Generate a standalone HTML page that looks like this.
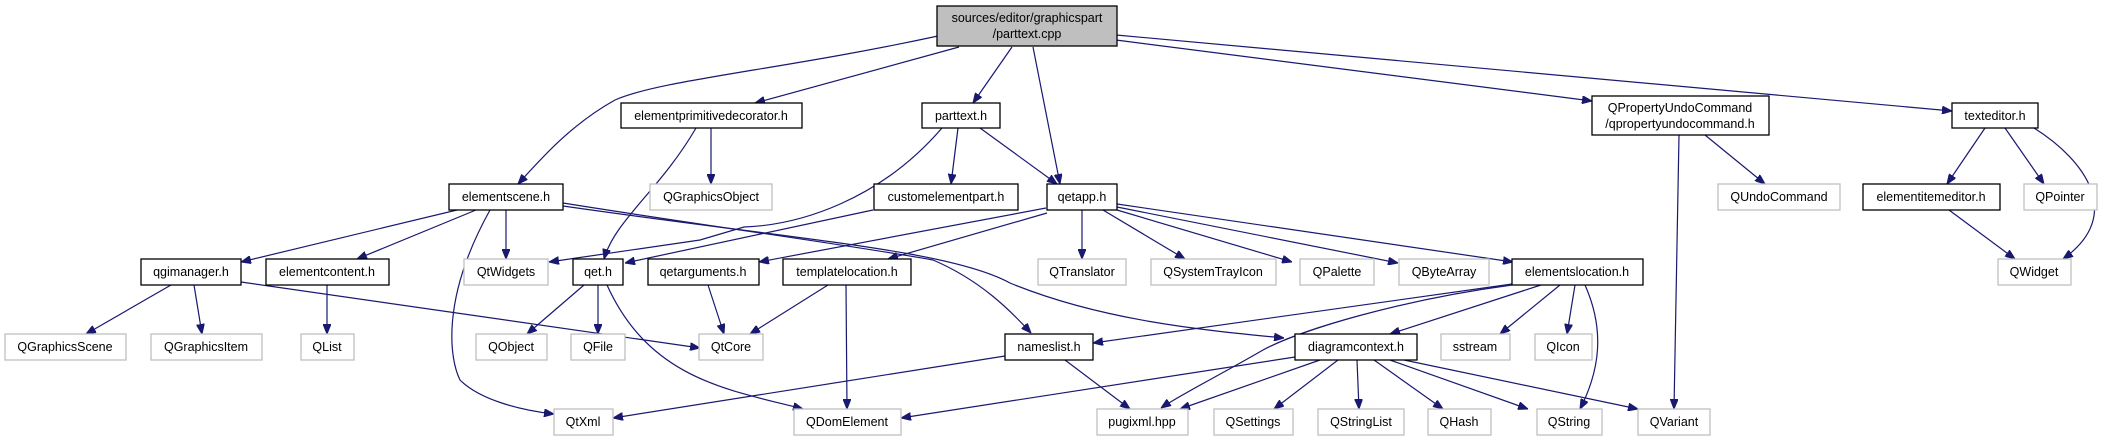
<!DOCTYPE html>
<html><head><meta charset="utf-8"><style>
html,body{margin:0;padding:0;background:#fff;}
svg{display:block;}
text{font-family:"Liberation Sans",Arial,sans-serif;font-size:12.5px;fill:#000;text-anchor:middle;}
.b{fill:#fff;stroke:#000;stroke-width:1.3;}
.g{fill:#fff;stroke:#bfbfbf;stroke-width:1.3;}
.e{fill:none;stroke:#191970;stroke-width:1.2;marker-end:url(#a);}
</style></head><body>
<svg width="2123" height="440" viewBox="0 0 2123 440" xmlns="http://www.w3.org/2000/svg">
<defs><marker id="a" markerWidth="10" markerHeight="8" refX="10" refY="4" orient="auto" markerUnits="userSpaceOnUse"><path d="M0,0 L10,4 L0,8 z" fill="#191970" stroke="#191970"/></marker></defs>
<g>
<path class="e" d="M938,36 C780,70 660,80 615,100 C570,125 540,160 518,184"/>
<path class="e" d="M959,47 L755,103"/>
<path class="e" d="M1012,47 L973,103"/>
<path class="e" d="M1033,47 L1060,184"/>
<path class="e" d="M1116,40 L1592,101"/>
<path class="e" d="M1116,35 L1952,111"/>
<path class="e" d="M696,128 C660,190 615,220 604,259"/>
<path class="e" d="M711,128 L711,184"/>
<path class="e" d="M942,128 C880,200 800,225 744,227 L700,240 L549,262"/>
<path class="e" d="M958,128 L951,184"/>
<path class="e" d="M980,128 L1057,184"/>
<path class="e" d="M873,210 L625,263"/>
<path class="e" d="M1046,208 L759,262"/>
<path class="e" d="M1047,213 L888,259"/>
<path class="e" d="M1082,210 L1082,259"/>
<path class="e" d="M1103,210 L1185,259"/>
<path class="e" d="M1117,210 L1292,262"/>
<path class="e" d="M1117,207 L1398,263"/>
<path class="e" d="M1117,204 L1513,262"/>
<path class="e" d="M457,210 L241,262"/>
<path class="e" d="M476,210 L357,259"/>
<path class="e" d="M506,210 L506,259"/>
<path class="e" d="M490,210 C440,300 450,360 460,380 C480,400 520,410 554,414"/>
<path class="e" d="M563,203 C700,225 850,245 933,260 C980,280 1010,310 1031,333"/>
<path class="e" d="M563,206 C800,240 950,250 1010,283 C1100,320 1200,330 1284,338"/>
<path class="e" d="M171,285 L86,334"/>
<path class="e" d="M194,285 L202,334"/>
<path class="e" d="M241,282 L700,348"/>
<path class="e" d="M327,285 L327,334"/>
<path class="e" d="M584,285 L527,334"/>
<path class="e" d="M598,285 L598,334"/>
<path class="e" d="M607,285 C650,380 730,390 803,409"/>
<path class="e" d="M708,285 L724,334"/>
<path class="e" d="M828,285 L750,334"/>
<path class="e" d="M846,285 L847,409"/>
<path class="e" d="M1005,356 L613,418"/>
<path class="e" d="M1065,360 L1130,409"/>
<path class="e" d="M1512,284 L1093,343"/>
<path class="e" d="M1512,285 C1400,300 1300,330 1263,350 C1220,375 1180,395 1161,408"/>
<path class="e" d="M1541,285 L1390,334"/>
<path class="e" d="M1560,285 L1500,334"/>
<path class="e" d="M1575,285 L1567,334"/>
<path class="e" d="M1585,285 C1605,330 1600,370 1580,409"/>
<path class="e" d="M1295,357 L901,418"/>
<path class="e" d="M1320,360 L1180,409"/>
<path class="e" d="M1338,360 L1274,409"/>
<path class="e" d="M1357,360 L1359,409"/>
<path class="e" d="M1374,360 L1443,409"/>
<path class="e" d="M1390,360 L1528,409"/>
<path class="e" d="M1404,360 L1638,409"/>
<path class="e" d="M1679,135 L1674,409"/>
<path class="e" d="M1705,135 L1765,184"/>
<path class="e" d="M1985,128 L1947,184"/>
<path class="e" d="M2005,128 L2044,184"/>
<path class="e" d="M2034,128 C2085,160 2125,215 2063,259"/>
<path class="e" d="M1949,210 L2015,259"/>
</g>
<rect x="937" y="6" width="180" height="40" fill="#bfbfbf" stroke="#000" stroke-width="1.3"/>
<text x="1027" y="22">sources/editor/graphicspart</text><text x="1027" y="38">/parttext.cpp</text>
<rect class="b" x="621" y="103" width="181" height="25"/><text x="711" y="120">elementprimitivedecorator.h</text>
<rect class="b" x="922" y="103" width="78" height="25"/><text x="961" y="120">parttext.h</text>
<rect class="b" x="1592" y="96" width="177" height="39"/><text x="1680" y="112">QPropertyUndoCommand</text><text x="1680" y="128">/qpropertyundocommand.h</text>
<rect class="b" x="1952" y="103" width="86" height="25"/><text x="1995" y="120">texteditor.h</text>
<rect class="b" x="449" y="184" width="114" height="26"/><text x="506" y="201">elementscene.h</text>
<rect class="g" x="650" y="184" width="122" height="26"/><text x="711" y="201">QGraphicsObject</text>
<rect class="b" x="874" y="184" width="144" height="26"/><text x="946" y="201">customelementpart.h</text>
<rect class="b" x="1047" y="184" width="70" height="26"/><text x="1082" y="201">qetapp.h</text>
<rect class="g" x="1718" y="184" width="122" height="26"/><text x="1779" y="201">QUndoCommand</text>
<rect class="b" x="1863" y="184" width="137" height="26"/><text x="1931" y="201">elementitemeditor.h</text>
<rect class="g" x="2024" y="184" width="73" height="26"/><text x="2060" y="201">QPointer</text>
<rect class="b" x="141" y="259" width="100" height="26"/><text x="191" y="276">qgimanager.h</text>
<rect class="b" x="266" y="259" width="123" height="26"/><text x="327" y="276">elementcontent.h</text>
<rect class="g" x="464" y="259" width="84" height="26"/><text x="506" y="276">QtWidgets</text>
<rect class="b" x="573" y="259" width="50" height="26"/><text x="598" y="276">qet.h</text>
<rect class="b" x="648" y="259" width="111" height="26"/><text x="703" y="276">qetarguments.h</text>
<rect class="b" x="783" y="259" width="128" height="26"/><text x="847" y="276">templatelocation.h</text>
<rect class="g" x="1038" y="259" width="88" height="26"/><text x="1082" y="276">QTranslator</text>
<rect class="g" x="1151" y="259" width="125" height="26"/><text x="1213" y="276">QSystemTrayIcon</text>
<rect class="g" x="1300" y="259" width="74" height="26"/><text x="1337" y="276">QPalette</text>
<rect class="g" x="1399" y="259" width="90" height="26"/><text x="1444" y="276">QByteArray</text>
<rect class="b" x="1512" y="259" width="131" height="26"/><text x="1577" y="276">elementslocation.h</text>
<rect class="g" x="1998" y="259" width="73" height="26"/><text x="2034" y="276">QWidget</text>
<rect class="g" x="5" y="334" width="121" height="26"/><text x="65" y="351">QGraphicsScene</text>
<rect class="g" x="151" y="334" width="111" height="26"/><text x="206" y="351">QGraphicsItem</text>
<rect class="g" x="301" y="334" width="53" height="26"/><text x="327" y="351">QList</text>
<rect class="g" x="476" y="334" width="71" height="26"/><text x="511" y="351">QObject</text>
<rect class="g" x="571" y="334" width="54" height="26"/><text x="598" y="351">QFile</text>
<rect class="g" x="699" y="334" width="64" height="26"/><text x="731" y="351">QtCore</text>
<rect class="b" x="1005" y="334" width="88" height="26"/><text x="1049" y="351">nameslist.h</text>
<rect class="b" x="1295" y="334" width="122" height="26"/><text x="1356" y="351">diagramcontext.h</text>
<rect class="g" x="1441" y="334" width="69" height="26"/><text x="1475" y="351">sstream</text>
<rect class="g" x="1535" y="334" width="57" height="26"/><text x="1563" y="351">QIcon</text>
<rect class="g" x="554" y="409" width="59" height="26"/><text x="583" y="426">QtXml</text>
<rect class="g" x="794" y="409" width="107" height="26"/><text x="847" y="426">QDomElement</text>
<rect class="g" x="1097" y="409" width="91" height="26"/><text x="1142" y="426">pugixml.hpp</text>
<rect class="g" x="1214" y="409" width="79" height="26"/><text x="1253" y="426">QSettings</text>
<rect class="g" x="1318" y="409" width="86" height="26"/><text x="1361" y="426">QStringList</text>
<rect class="g" x="1428" y="409" width="63" height="26"/><text x="1459" y="426">QHash</text>
<rect class="g" x="1537" y="409" width="65" height="26"/><text x="1569" y="426">QString</text>
<rect class="g" x="1638" y="409" width="72" height="26"/><text x="1674" y="426">QVariant</text>
</svg>
</body></html>
